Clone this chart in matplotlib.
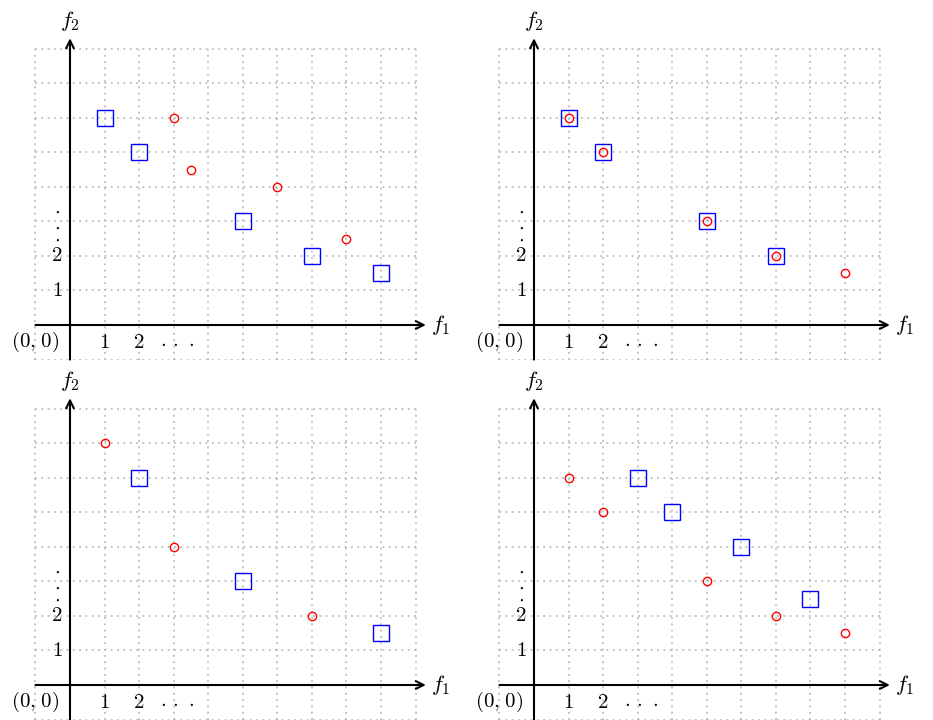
import matplotlib
matplotlib.use("Agg")
import matplotlib.pyplot as plt

plt.rcParams['mathtext.fontset'] = 'cm'
plt.rcParams['font.family'] = 'serif'
plt.rcParams['font.serif'] = ['DejaVu Serif']

# Data for each panel (f1, f2)
tl_blue_x = [1, 2, 5, 7, 9]
tl_blue_y = [6, 5, 3, 2, 1.5]
tl_red_x = [3, 3.5, 6, 8]
tl_red_y = [6, 4.5, 4, 2.5]

tr_blue_x = [1, 2, 5, 7]
tr_blue_y = [6, 5, 3, 2]
tr_red_x = [1, 2, 5, 7, 9]
tr_red_y = [6, 5, 3, 2, 1.5]

bl_blue_x = [2, 5, 9]
bl_blue_y = [6, 3, 1.5]
bl_red_x = [1, 3, 7]
bl_red_y = [7, 4, 2]

br_blue_x = [3, 4, 6, 8]
br_blue_y = [6, 5, 4, 2.5]
br_red_x = [1, 2, 5, 7, 9]
br_red_y = [6, 5, 3, 2, 1.5]

x_tick_labels = ['$1$', '$2$', r'$\cdot\,\cdot\,\cdot$']
y_tick_labels = ['$1$', '$2$', r'$\cdot\,\cdot\,\cdot$']

W, H = 933, 720
fig = plt.figure(figsize=(W / 100, H / 100), dpi=100)
u = 34.55

panels = [
    ((0, 466, 0, 360), (70, 325), tl_blue_x, tl_blue_y, tl_red_x, tl_red_y),
    ((466, 933, 0, 360), (534, 325), tr_blue_x, tr_blue_y, tr_red_x, tr_red_y),
    ((0, 466, 360, 720), (70, 685), bl_blue_x, bl_blue_y, bl_red_x, bl_red_y),
    ((466, 933, 360, 720), (534, 685), br_blue_x, br_blue_y, br_red_x, br_red_y),
]

for (bx0, bx1, by0, by1), (ox, oy), bxs, bys, rxs, rys in panels:
    ax = fig.add_axes([bx0 / W, 1 - by1 / H, (bx1 - bx0) / W, (by1 - by0) / H])
    ax.set_xlim((bx0 - ox) / u, (bx1 - ox) / u)
    ax.set_ylim((oy - by1) / u, (oy - by0) / u)
    ax.axis('off')
    # grid
    for gx in range(-1, 11):
        ax.plot([gx, gx], [-1, 8], color='#bdbdbd', lw=1.3,
                linestyle=(0, (1, 2.5)), zorder=1)
    for gy in range(-1, 9):
        ax.plot([-1, 10], [gy, gy], color='#bdbdbd', lw=1.3,
                linestyle=(0, (1, 2.5)), zorder=1)
    # axes arrows
    ax.annotate('', xy=(10.3, 0), xytext=(-1, 0),
                arrowprops=dict(arrowstyle='->', lw=1.5, color='black',
                                shrinkA=0, shrinkB=0, mutation_scale=14), zorder=3)
    ax.annotate('', xy=(0, 8.3), xytext=(0, -1),
                arrowprops=dict(arrowstyle='->', lw=1.5, color='black',
                                shrinkA=0, shrinkB=0, mutation_scale=14), zorder=3)
    ax.text(10.45, 0, '$f_1$', fontsize=16, ha='left', va='center')
    ax.text(0, 8.45, '$f_2$', fontsize=16, ha='center', va='bottom')
    ax.text(-1.02, -0.5, r'$(0,\!\;0)$', fontsize=15, ha='center', va='center')
    for i, lab in enumerate(x_tick_labels):
        ax.text(i + 1 + (0.1 if i == 2 else 0), -0.5, lab, fontsize=15,
                ha='center', va='center')
    for i, lab in enumerate(y_tick_labels):
        ax.text(-0.38, i + 1 - (0.12 if i == 2 else 0), lab, fontsize=15,
                ha='center', va='center', rotation=(90 if i == 2 else 0))
    ax.plot(bxs, bys, linestyle='none', marker='s', markersize=11,
            markerfacecolor='none', markeredgecolor='#0000ff', markeredgewidth=1.0, zorder=4)
    ax.plot(rxs, rys, linestyle='none', marker='o', markersize=6,
            markerfacecolor='none', markeredgecolor='#ff0000', markeredgewidth=1.0, zorder=5)

fig.savefig('out.png', dpi=100)
